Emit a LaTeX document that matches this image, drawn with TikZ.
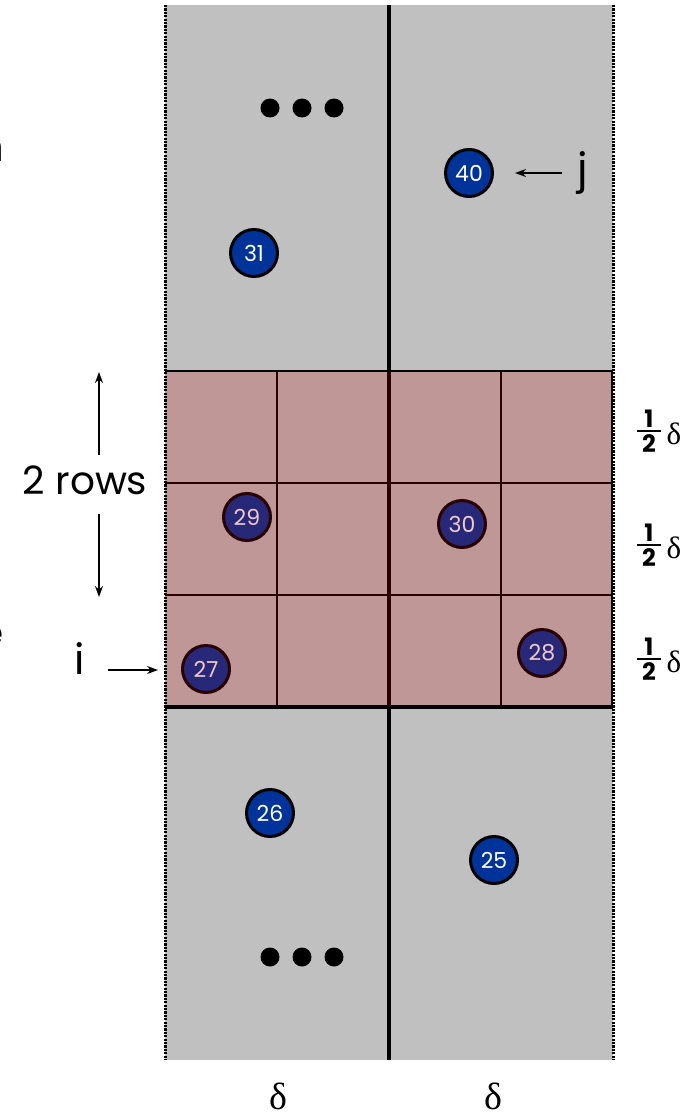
\documentclass[tikz,border=0pt]{standalone}
\usepackage{fontspec}
\setmainfont{Poppins}
\newfontfamily\dfont{Liberation Serif}
\usetikzlibrary{arrows.meta}
\definecolor{stripgray}{RGB}{192,192,192}
\definecolor{ptblue}{RGB}{0,51,153}
\definecolor{ovred}{RGB}{192,0,0}
\begin{document}
\begin{tikzpicture}[x=1pt,y=-1pt,
  pt/.style={circle,draw=black,line width=3pt,fill=ptblue,text=white,
    minimum size=47pt,inner sep=0pt,font=\fontsize{22}{22}\selectfont},
  dotb/.style={fill=black,circle,minimum size=19pt,inner sep=0pt},
  lbl/.style={font=\fontsize{39}{39}\selectfont,inner sep=0pt},
  big/.style={font=\fontsize{42}{42}\selectfont,inner sep=0pt},
  dl/.style={font=\dfont\fontsize{38}{38}\selectfont,inner sep=0pt},
  sdl/.style={font=\dfont\fontsize{31}{31}\selectfont,inner sep=0pt},
  fr/.style={font=\bfseries\fontsize{24}{24}\selectfont,inner sep=0pt},
  arr/.style={-{Stealth[length=11pt,width=8pt]},line width=1.4pt},
  gridln/.style={line width=1.6pt},
  stripedge/.style={draw=black,line width=3pt,dash pattern=on 2.2pt off 1.2pt}]
\useasboundingbox (0,0) rectangle (696,1116);
\fill[white] (0,0) rectangle (696,1116);
% clipped fragments at the left edge
\node[big,anchor=east] (frag1) at (5,150) {n};
\node[lbl,anchor=east] (frag2) at (4,636) {e};
% strip
\fill[stripgray] (165,5) rectangle (613,1060);
\draw[gridln] (277,371) -- (277,707);
\draw[gridln] (501,371) -- (501,707);
\draw[gridln] (165,483) -- (613,483);
\draw[gridln] (165,595) -- (613,595);
\draw[line width=4pt] (389,5) -- (389,1060);
% points
\node[pt] (p40) at (469,173) {40};
\node[pt] (p31) at (254,253) {31};
\node[pt] (p29) at (247,517) {29};
\node[pt] (p30) at (462,524) {30};
\node[pt] (p27) at (206,669) {27};
\node[pt] (p28) at (542,653) {28};
\node[pt] (p26) at (270,813) {26};
\node[pt] (p25) at (494,860) {25};
% ellipses
\node[dotb] (d1) at (270,108) {};
\node[dotb] (d2) at (302,108) {};
\node[dotb] (d3) at (334,108) {};
\node[dotb] (d4) at (270,957) {};
\node[dotb] (d5) at (302,957) {};
\node[dotb] (d6) at (334,957) {};
% overlay
\fill[ovred,opacity=0.21] (165,371) rectangle (613,707);
\draw[line width=2.5pt] (165,371) -- (612,371) -- (612,707);
\draw[line width=3.5pt] (165,707) -- (613,707);
\draw[stripedge] (165,5) -- (165,1060);
\draw[stripedge] (613,5) -- (613,1060);
% labels left
\node[lbl] (rows) at (85,480) {2 rows};
\coordinate (uptip) at (99,372);
\coordinate (uptail) at (99,455);
\coordinate (dntail) at (99,514);
\coordinate (dntip) at (99,597);
\draw[arr] (uptail) -- (uptip);
\draw[arr] (dntail) -- (dntip);
\node[big] (i) at (80,659) {i};
\coordinate (itip) at (158,670);
\coordinate (itail) at (108,670);
\draw[arr] (itail) -- (itip);
\node[big] (j) at (583,173) {j};
\coordinate (jtail) at (562,173);
\coordinate (jtip) at (515,173);
\draw[arr] (jtail) -- (jtip);
% right labels
\foreach \k/\b in {1/431,2/545,3/659}{
  \node[fr] (n\k) at (649,\b-12) {1};
  \node[fr] (m\k) at (649,\b+13) {2};
  \draw[line width=2.2pt] (637,\b) -- (661,\b);
  \node[sdl] (h\k) at (674,\b+3) {δ};
}
% bottom
\node[dl] (dA) at (278,1096) {δ};
\node[dl] (dB) at (493,1096) {δ};
\end{tikzpicture}
\end{document}
